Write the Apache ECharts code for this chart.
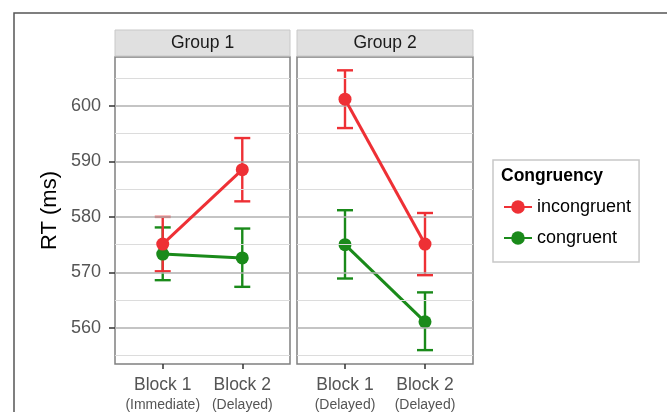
<!DOCTYPE html>
<html><head><meta charset="utf-8">
<script src="https://cdn.jsdelivr.net/npm/echarts@6/dist/echarts.min.js"></script>
<style>html,body{margin:0;padding:0;background:#fff}#c{width:667px;height:412px}</style>
</head><body><div id="c"></div>
<script>
const categories = ['Block 1', 'Block 2'];
const groups = ['Group 1', 'Group 2'];
const subLabels1 = ['(Immediate)', '(Delayed)'];
const subLabels2 = ['(Delayed)', '(Delayed)'];
const seriesNames = ['incongruent', 'congruent'];

const incong1 = [575.1, 588.5];
const incongLo1 = [570.2, 582.8];
const incongHi1 = [580.0, 594.2];
const cong1 = [573.3, 572.6];
const congLo1 = [568.6, 567.4];
const congHi1 = [578.1, 577.9];

const incong2 = [601.2, 575.1];
const incongLo2 = [596.0, 569.5];
const incongHi2 = [606.4, 580.7];
const cong2 = [575.0, 561.1];
const congLo2 = [568.9, 556.0];
const congHi2 = [581.2, 566.4];

const yTicks = [560, 570, 580, 590, 600];
const yMinor = [555, 565, 575, 585, 595, 605];

const RED = '#ee3035';
const GREEN = '#1a8a1a';
const FONT = '"Liberation Sans", Arial, Helvetica, sans-serif';

function pts(vals) { return vals.map((v, i) => [i + 1, v]); }
function bars(lo, hi) { return lo.map((v, i) => [i + 1, v, hi[i]]); }

function errSeries(lo, hi, color, idx) {
  return {
    type: 'custom', xAxisIndex: idx, yAxisIndex: idx, z: 3,
    encode: { x: 0, y: [1, 2] },
    itemStyle: { color: color },
    data: bars(lo, hi),
    renderItem: function (params, api) {
      const x = api.value(0);
      const a = api.coord([x, api.value(2)]);
      const b = api.coord([x, api.value(1)]);
      const w = 8;
      const st = { stroke: color, lineWidth: 2.4 };
      return { type: 'group', children: [
        { type: 'line', shape: { x1: a[0], y1: a[1], x2: b[0], y2: b[1] }, style: st },
        { type: 'line', shape: { x1: a[0] - w, y1: a[1], x2: a[0] + w, y2: a[1] }, style: st },
        { type: 'line', shape: { x1: b[0] - w, y1: b[1], x2: b[0] + w, y2: b[1] }, style: st }
      ]};
    }
  };
}
function lineSeries(name, vals, color, idx, z) {
  return {
    type: 'line', name: name, xAxisIndex: idx, yAxisIndex: idx, z: z,
    data: pts(vals), symbol: 'circle', symbolSize: 13,
    lineStyle: { color: color, width: 3 }, itemStyle: { color: color },
    emphasis: { disabled: true }
  };
}
function gridSeries(idx) {
  return {
    type: 'line', xAxisIndex: idx, yAxisIndex: idx, data: [], z: 1, silent: true,
    markLine: {
      silent: true, symbol: ['none', 'none'], label: { show: false },
      animation: false,
      data: yMinor.map(v => ({ yAxis: v, lineStyle: { color: '#dcdcdc', width: 1, type: 'solid' } }))
        .concat(yTicks.map(v => ({ yAxis: v, lineStyle: { color: '#b0b0b0', width: 1.5, type: 'solid' } })))
    }
  };
}
function xAxis(idx, subs) {
  return {
    type: 'value', gridIndex: idx, min: 0.4, max: 2.6,
    axisLine: { show: false }, splitLine: { show: false },
    axisTick: { show: true, customValues: [1, 2], length: 5, lineStyle: { color: '#333', width: 1.5 } },
    axisLabel: {
      customValues: [1, 2], margin: 11,
      formatter: function (v) { const i = Math.round(v) - 1; return '{a|' + categories[i] + '}\n{b|' + subs[i] + '}'; },
      rich: {
        a: { fontSize: 17.5, color: '#555', fontFamily: FONT, lineHeight: 20 },
        b: { fontSize: 14, color: '#555', fontFamily: FONT, lineHeight: 20 }
      }
    }
  };
}
function yAxis(idx, showLabels) {
  return {
    type: 'value', gridIndex: idx, min: 553.5, max: 608.8,
    axisLine: { show: false }, splitLine: { show: false },
    name: showLabels ? 'RT (ms)' : '', nameLocation: 'middle', nameGap: 54, nameRotate: 90,
    nameTextStyle: { fontSize: 22, color: '#000', fontFamily: FONT },
    axisTick: { show: showLabels, customValues: yTicks, length: 6, lineStyle: { color: '#333', width: 1.5 } },
    axisLabel: { show: showLabels, customValues: yTicks, margin: 14, fontSize: 18, color: '#555', fontFamily: FONT }
  };
}
function strip(x, w, label) {
  return [
    { type: 'rect', shape: { x: x, y: 30, width: w, height: 26 }, style: { fill: '#e0e0e0', stroke: '#c8c8c8', lineWidth: 1 } },
    { type: 'text', x: x + w / 2, y: 43, style: { text: label, fill: '#1a1a1a', font: '17.5px ' + FONT, textAlign: 'center', textVerticalAlign: 'middle' } }
  ];
}

const chart = echarts.init(document.getElementById('c'));
chart.setOption({
  animation: false,
  backgroundColor: '#fff',
  grid: [
    { left: 115, top: 57, width: 175, height: 308, show: true, backgroundColor: '#fff', borderColor: '#808080', borderWidth: 1.5 },
    { left: 297, top: 57, width: 176, height: 308, show: true, backgroundColor: '#fff', borderColor: '#808080', borderWidth: 1.5 }
  ],
  xAxis: [xAxis(0, subLabels1), xAxis(1, subLabels2)],
  yAxis: [yAxis(0, true), yAxis(1, false)],
  legend: {
    data: seriesNames, orient: 'vertical', left: 493, top: 160,
    padding: [38, 8, 15, 10], itemWidth: 28, itemHeight: 17, itemGap: 13,
    borderColor: '#c8c8c8', borderWidth: 1.5, backgroundColor: '#fff',
    textStyle: { fontSize: 18, color: '#000', fontFamily: FONT }
  },
  graphic: [
    { type: 'rect', shape: { x: 14, y: 13, width: 700, height: 450 }, style: { fill: 'none', stroke: '#555', lineWidth: 1.5 }, z: -1 },
    ...strip(115, 175, groups[0]),
    ...strip(297, 176, groups[1]),
    { type: 'text', x: 501, y: 176, z: 100, style: { text: 'Congruency', fill: '#000', font: 'bold 17.5px ' + FONT, textVerticalAlign: 'middle' } }
  ],
  series: [
    gridSeries(0), gridSeries(1),
    errSeries(congLo1, congHi1, GREEN, 0),
    lineSeries('congruent', cong1, GREEN, 0, 4),
    errSeries(incongLo1, incongHi1, RED, 0),
    lineSeries('incongruent', incong1, RED, 0, 5),
    errSeries(congLo2, congHi2, GREEN, 1),
    lineSeries('congruent', cong2, GREEN, 1, 4),
    errSeries(incongLo2, incongHi2, RED, 1),
    lineSeries('incongruent', incong2, RED, 1, 5)
  ]
});
</script></body></html>
